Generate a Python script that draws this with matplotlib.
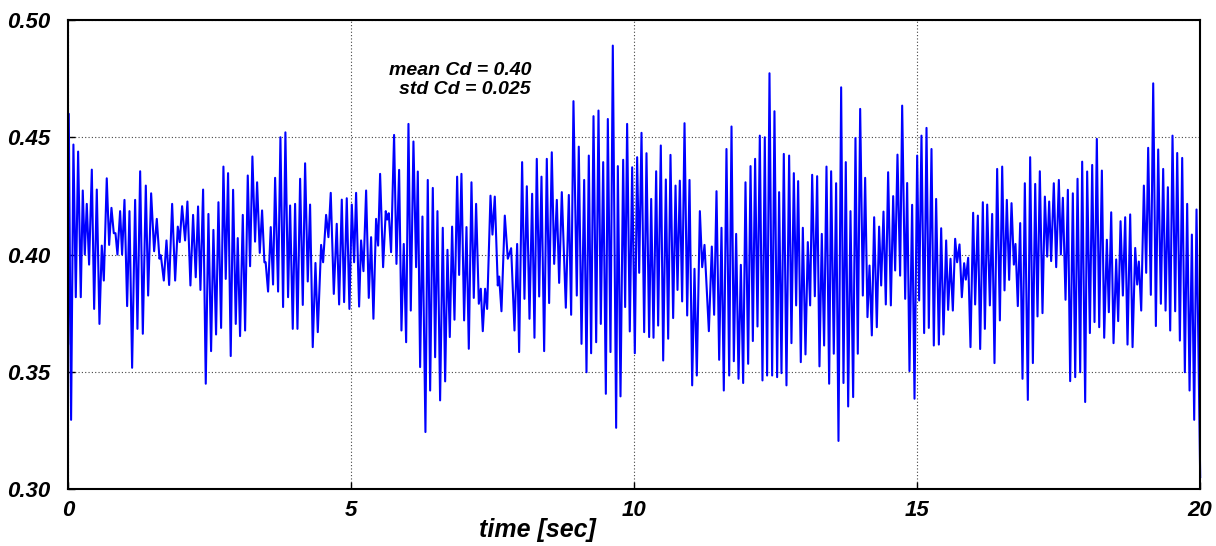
import numpy as np
import matplotlib
matplotlib.use("Agg")
import matplotlib.pyplot as plt

# drag coefficient time history, peaks and troughs
time_s = [
    0.000, 0.012, 0.053, 0.094, 0.136, 0.177, 0.224, 0.259, 0.295, 0.330, 0.371, 0.419, 0.460, 0.507,
    0.554, 0.595, 0.631, 0.683, 0.725, 0.766, 0.807, 0.837, 0.872, 0.919, 0.954, 0.996, 1.043, 1.084,
    1.131, 1.184, 1.225, 1.273, 1.320, 1.373, 1.414, 1.467, 1.520, 1.567, 1.614, 1.638, 1.691, 1.738,
    1.785, 1.838, 1.891, 1.938, 1.972, 2.014, 2.067, 2.108, 2.161, 2.208, 2.255, 2.296, 2.338, 2.385,
    2.432, 2.479, 2.526, 2.567, 2.614, 2.656, 2.703, 2.744, 2.785, 2.826, 2.873, 2.915, 2.962, 2.997,
    3.038, 3.086, 3.127, 3.174, 3.215, 3.256, 3.303, 3.339, 3.386, 3.427, 3.468, 3.490, 3.533, 3.580,
    3.621, 3.657, 3.710, 3.751, 3.798, 3.839, 3.886, 3.922, 3.969, 4.010, 4.052, 4.099, 4.146, 4.187,
    4.234, 4.275, 4.322, 4.370, 4.411, 4.470, 4.505, 4.558, 4.599, 4.640, 4.694, 4.746, 4.788, 4.835,
    4.876, 4.923, 4.970, 5.012, 5.053, 5.088, 5.141, 5.176, 5.218, 5.265, 5.312, 5.353, 5.394, 5.441,
    5.477, 5.512, 5.565, 5.612, 5.636, 5.665, 5.706, 5.759, 5.801, 5.848, 5.889, 5.930, 5.972, 6.013,
    6.054, 6.101, 6.148, 6.178, 6.219, 6.260, 6.313, 6.354, 6.396, 6.443, 6.484, 6.525, 6.572, 6.619,
    6.661, 6.702, 6.743, 6.784, 6.826, 6.873, 6.908, 6.949, 6.996, 7.038, 7.079, 7.126, 7.167, 7.208,
    7.256, 7.291, 7.326, 7.367, 7.403, 7.462, 7.497, 7.538, 7.591, 7.615, 7.656, 7.715, 7.768, 7.827,
    7.886, 7.933, 7.968, 8.021, 8.062, 8.104, 8.151, 8.198, 8.239, 8.280, 8.322, 8.363, 8.410, 8.457,
    8.498, 8.545, 8.587, 8.634, 8.675, 8.722, 8.793, 8.846, 8.887, 8.928, 8.987, 9.022, 9.070, 9.117,
    9.158, 9.199, 9.240, 9.282, 9.329, 9.370, 9.411, 9.453, 9.500, 9.535, 9.582, 9.623, 9.682, 9.712,
    9.759, 9.806, 9.841, 9.876, 9.923, 9.965, 10.012, 10.053, 10.089, 10.130, 10.177, 10.218, 10.265,
    10.301, 10.342, 10.389, 10.424, 10.471, 10.513, 10.560, 10.601, 10.642, 10.689, 10.731, 10.766,
    10.807, 10.848, 10.890, 10.937, 10.978, 11.025, 11.066, 11.107, 11.161, 11.202, 11.243, 11.320,
    11.372, 11.413, 11.455, 11.502, 11.543, 11.584, 11.631, 11.679, 11.720, 11.761, 11.802, 11.844,
    11.885, 11.926, 11.967, 12.014, 12.056, 12.097, 12.137, 12.179, 12.220, 12.267, 12.308, 12.349,
    12.391, 12.438, 12.479, 12.526, 12.561, 12.603, 12.644, 12.691, 12.738, 12.779, 12.821, 12.862,
    12.897, 12.944, 12.980, 13.027, 13.068, 13.109, 13.145, 13.192, 13.233, 13.274, 13.315, 13.356,
    13.398, 13.445, 13.480, 13.527, 13.568, 13.610, 13.657, 13.698, 13.739, 13.781, 13.822, 13.869,
    13.910, 13.951, 13.993, 14.040, 14.081, 14.122, 14.158, 14.199, 14.240, 14.287, 14.328, 14.364,
    14.405, 14.446, 14.487, 14.535, 14.576, 14.611, 14.652, 14.699, 14.735, 14.788, 14.823, 14.864,
    14.911, 14.953, 15.000, 15.035, 15.076, 15.123, 15.165, 15.206, 15.253, 15.294, 15.335, 15.383,
    15.424, 15.465, 15.512, 15.547, 15.589, 15.630, 15.671, 15.706, 15.748, 15.789, 15.830, 15.860,
    15.901, 15.942, 15.989, 16.024, 16.072, 16.113, 16.160, 16.196, 16.237, 16.284, 16.325, 16.366,
    16.413, 16.461, 16.502, 16.543, 16.584, 16.625, 16.667, 16.708, 16.737, 16.778, 16.820, 16.861,
    16.902, 16.955, 16.996, 17.044, 17.085, 17.126, 17.167, 17.214, 17.256, 17.297, 17.332, 17.367,
    17.414, 17.456, 17.503, 17.538, 17.574, 17.621, 17.662, 17.703, 17.750, 17.792, 17.833, 17.880,
    17.915, 17.968, 18.003, 18.051, 18.092, 18.133, 18.174, 18.216, 18.263, 18.304, 18.351, 18.386,
    18.428, 18.469, 18.516, 18.551, 18.593, 18.634, 18.675, 18.716, 18.763, 18.805, 18.852, 18.887,
    18.916, 18.958, 19.005, 19.046, 19.081, 19.128, 19.170, 19.217, 19.258, 19.305, 19.346, 19.388,
    19.429, 19.470, 19.511, 19.558, 19.594, 19.641, 19.682, 19.729, 19.770, 19.812, 19.853, 19.894,
    19.935, 20.000,
]

cd = [
    0.3620, 0.4600, 0.3295, 0.4469, 0.3818, 0.4439, 0.3818, 0.4273, 0.4000, 0.4216, 0.3957, 0.4362, 0.3768, 0.4277,
    0.3704, 0.4038, 0.3889, 0.4325, 0.4041, 0.4199, 0.4091, 0.4091, 0.4000, 0.4185, 0.4000, 0.4233, 0.3780, 0.4185,
    0.3517, 0.4233, 0.3683, 0.4355, 0.3662, 0.4294, 0.3825, 0.4261, 0.4014, 0.4152, 0.3982, 0.3997, 0.3889, 0.4060,
    0.3870, 0.4216, 0.3889, 0.4119, 0.4053, 0.4206, 0.4060, 0.4226, 0.3868, 0.4169, 0.3903, 0.4205, 0.3849, 0.4277,
    0.3449, 0.4173, 0.3588, 0.4105, 0.3659, 0.4223, 0.3687, 0.4375, 0.3896, 0.4347, 0.3567, 0.4276, 0.3704, 0.4070,
    0.3652, 0.4169, 0.3676, 0.4337, 0.3950, 0.4418, 0.4055, 0.4308, 0.4007, 0.4188, 0.3967, 0.3967, 0.3842, 0.4117,
    0.3872, 0.4327, 0.3842, 0.4500, 0.3776, 0.4521, 0.3818, 0.4209, 0.3683, 0.4216, 0.3683, 0.4323, 0.3785, 0.4389,
    0.3885, 0.4213, 0.3605, 0.3964, 0.3669, 0.4041, 0.3967, 0.4169, 0.4074, 0.4263, 0.3832, 0.4131, 0.3787, 0.4234,
    0.3797, 0.4240, 0.3768, 0.4213, 0.3967, 0.4263, 0.3778, 0.4060, 0.3929, 0.4273, 0.3815, 0.4074, 0.3726, 0.4152,
    0.4038, 0.4344, 0.3946, 0.4185, 0.4149, 0.4176, 0.4010, 0.4510, 0.3960, 0.4361, 0.3676, 0.4045, 0.3626, 0.4557,
    0.3761, 0.4482, 0.3946, 0.4354, 0.3520, 0.4162, 0.3243, 0.4318, 0.3420, 0.4284, 0.3562, 0.4185, 0.3378, 0.4114,
    0.3459, 0.4020, 0.3648, 0.4119, 0.3722, 0.4332, 0.3913, 0.4344, 0.3719, 0.4117, 0.3598, 0.4308, 0.3815, 0.4216,
    0.3790, 0.3854, 0.3673, 0.3854, 0.3768, 0.4251, 0.4085, 0.4247, 0.3868, 0.3906, 0.3758, 0.4166, 0.3982, 0.4027,
    0.3676, 0.4045, 0.3584, 0.4394, 0.3811, 0.4291, 0.3726, 0.4259, 0.3645, 0.4408, 0.3821, 0.4332, 0.3588, 0.4408,
    0.3793, 0.4436, 0.3960, 0.4233, 0.3879, 0.4266, 0.3773, 0.4254, 0.3743, 0.4654, 0.3825, 0.4460, 0.3619, 0.4318,
    0.3498, 0.4422, 0.3579, 0.4590, 0.3626, 0.4614, 0.3704, 0.4394, 0.3406, 0.4578, 0.3584, 0.4891, 0.3261, 0.4377,
    0.3395, 0.4404, 0.3776, 0.4557, 0.3672, 0.4372, 0.3579, 0.4415, 0.3922, 0.4519, 0.3669, 0.4432, 0.3648,
    0.4237, 0.3645, 0.4355, 0.3697, 0.4465, 0.3548, 0.4320, 0.3641, 0.4425, 0.3729, 0.4294, 0.3849,
    0.4315, 0.3800, 0.4560, 0.3740, 0.4318, 0.3442, 0.3939, 0.3484, 0.4185, 0.3946, 0.4041, 0.3673,
    0.4034, 0.3743, 0.4270, 0.3551, 0.4114, 0.3420, 0.4450, 0.3484, 0.4546, 0.3545, 0.4088, 0.3470,
    0.3956, 0.3452, 0.4308, 0.3534, 0.4377, 0.3631, 0.4408, 0.3693, 0.4507, 0.3463, 0.4500, 0.3484,
    0.4773, 0.3484, 0.4611, 0.3477, 0.4266, 0.3494, 0.4429, 0.3442, 0.4422, 0.3622, 0.4347, 0.3783,
    0.4313, 0.3541, 0.4114, 0.3574, 0.4053, 0.3783, 0.4340, 0.3822, 0.4334, 0.3523, 0.4088, 0.3612,
    0.4375, 0.3449, 0.4355, 0.3577, 0.4304, 0.3205, 0.4713, 0.3452, 0.4394, 0.3352, 0.4185, 0.3392,
    0.4497, 0.3577, 0.4621, 0.3825, 0.4327, 0.3733, 0.3953, 0.3655, 0.4159, 0.3690, 0.4119, 0.3868,
    0.4183, 0.3787, 0.4351, 0.3783, 0.4249, 0.3932, 0.4426, 0.3910, 0.4635, 0.3811, 0.4305, 0.3503,
    0.4212, 0.3385, 0.4422, 0.3804, 0.4507, 0.3665, 0.4540, 0.3687, 0.4450, 0.3612, 0.4237, 0.3616,
    0.4112, 0.3659, 0.4060, 0.3764, 0.3982, 0.3761, 0.4067, 0.3967, 0.4043, 0.3818, 0.3963, 0.3893,
    0.3986, 0.3605, 0.4178, 0.3787, 0.4166, 0.3597, 0.4223, 0.3683, 0.4213, 0.3783, 0.4173, 0.3537,
    0.4365, 0.3719, 0.4375, 0.3847, 0.4233, 0.3892, 0.4219, 0.3957, 0.4045, 0.3780, 0.4134, 0.3470,
    0.4304, 0.3380, 0.4415, 0.3537, 0.4301, 0.3736, 0.4355, 0.3750, 0.4247, 0.3991, 0.4226, 0.3972,
    0.4304, 0.3946, 0.4318, 0.4000, 0.4242, 0.3807, 0.4276, 0.3460, 0.4261, 0.3477, 0.4323, 0.3498,
    0.4396, 0.3371, 0.4354, 0.3665, 0.4382, 0.3712, 0.4493, 0.3690, 0.4358, 0.3645, 0.4063, 0.3754,
    0.4180, 0.3622, 0.3979, 0.3716, 0.4142, 0.3825, 0.4159, 0.3616, 0.4171, 0.3605, 0.4028, 0.3872,
    0.3970, 0.3761, 0.4294, 0.3922, 0.4455, 0.3828, 0.4730, 0.3695, 0.4448, 0.3790, 0.4365, 0.3761,
    0.4287, 0.3676, 0.4507, 0.3758, 0.4433, 0.3633, 0.4412, 0.3498, 0.4216, 0.3420, 0.4085, 0.3295,
    0.4192, 0.3051,
]

x_ticks = [0, 5, 10, 15, 20]
y_ticks = [0.30, 0.35, 0.40, 0.45, 0.50]
stats_text = "mean Cd = 0.40\nstd Cd = 0.025"

plt.rcParams["font.family"] = ["Liberation Sans", "DejaVu Sans"]

fig = plt.figure(figsize=(12.16, 5.46), dpi=100)
ax = fig.add_axes([0.056, 0.1044, 0.931, 0.8589])

ax.plot(np.array(time_s), np.array(cd), color="#0000ff", linewidth=1.5, clip_on=False)

ax.set_xlim(0, 20)
ax.set_ylim(0.30, 0.50)
ax.set_xticks(x_ticks)
ax.set_yticks(y_ticks)
ax.set_xticklabels([str(t) for t in x_ticks])
ax.set_yticklabels([f"{v:.2f}" for v in y_ticks])
for lbl in ax.get_xticklabels() + ax.get_yticklabels():
    lbl.set_fontweight("bold")
    lbl.set_fontstyle("italic")
    lbl.set_fontsize(16)
ax.tick_params(direction="in", length=5, width=1, colors="black")
ax.tick_params(axis="x", pad=8)
ax.tick_params(axis="y", pad=13)

ax.grid(True, color="#444444", linestyle=(0, (1, 2)), linewidth=0.8)
for spine in ax.spines.values():
    spine.set_linewidth(1.5)
    spine.set_color("black")

ax.text(0.4145, -0.087, "time [sec]", transform=ax.transAxes, ha="center", va="center",
        fontsize=18, fontweight="bold", fontstyle="italic")

ax.text(8.18, 0.4745, stats_text, ha="right", va="center", multialignment="right",
        fontsize=14, fontweight="bold", fontstyle="italic", linespacing=1.2)

fig.savefig("out.png", dpi=100)
